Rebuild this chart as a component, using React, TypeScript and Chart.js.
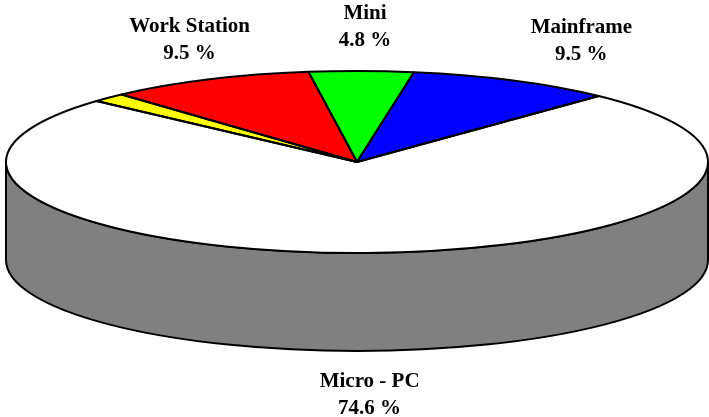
import React, { useEffect, useRef } from 'react';
import { Chart, registerables } from 'chart.js';

Chart.register(...registerables);

// ---- data ----
const categories = ['Mini', 'Mainframe', 'Micro - PC', 'Other', 'Work Station'];
const shares = [4.8, 9.5, 74.6, 1.6, 9.5];
const showLabel = [true, true, true, false, true];
const sliceColors = ['#00ff00', '#0000ff', '#ffffff', '#ffff00', '#ff0000'];

// ---- geometry / style ----
const W = 709;
const H = 417;
const CX = 357;
const CY = 162;
const RX = 351;
const RY = 91;
const DEPTH = 98;
const LABEL_RX = 450;
const LABEL_RY = 135;
const LABEL_SHIFT = 10;
const labelNudgeX = [-7.5, 14, -14.5, 0, 13];
const LINE_W = 2;
const ROT_OFFSET = 0.7;

function shade(hex: string, f: number): string {
  const n = parseInt(hex.slice(1), 16);
  const r = Math.round(((n >> 16) & 255) * f);
  const g = Math.round(((n >> 8) & 255) * f);
  const b = Math.round((n & 255) * f);
  return `rgb(${r},${g},${b})`;
}

const pie3d = {
  id: 'pie3d',
  beforeDatasetsDraw(chart: any) {
    const ctx: CanvasRenderingContext2D = chart.ctx;
    const arcs: any[] = chart.getDatasetMeta(0).data;
    ctx.save();
    ctx.lineWidth = LINE_W;
    ctx.lineJoin = 'round';
    ctx.strokeStyle = '#000';
    // extruded side (front half only)
    arcs.forEach((arc, i) => {
      const s = arc.startAngle;
      const e = arc.endAngle;
      for (let k = -2; k <= 2; k++) {
        const lo = Math.max(s, 2 * Math.PI * k);
        const hi = Math.min(e, 2 * Math.PI * k + Math.PI);
        if (hi > lo) {
          ctx.beginPath();
          ctx.ellipse(CX, CY, RX, RY, 0, lo, hi, false);
          ctx.ellipse(CX, CY + DEPTH, RX, RY, 0, hi, lo, true);
          ctx.closePath();
          ctx.fillStyle = shade(sliceColors[i], 0.5);
          ctx.fill();
          ctx.stroke();
        }
      }
    });
    ctx.restore();
    // squash the library's circular pie into the top ellipse
    const a0 = arcs[0];
    const r = a0.outerRadius;
    ctx.save();
    ctx.translate(CX, CY);
    ctx.scale(RX / r, RY / r);
    ctx.translate(-a0.x, -a0.y);
  },
  afterDatasetsDraw(chart: any) {
    const ctx: CanvasRenderingContext2D = chart.ctx;
    ctx.restore();
    const arcs: any[] = chart.getDatasetMeta(0).data;
    ctx.save();
    ctx.lineWidth = LINE_W;
    ctx.lineJoin = 'round';
    ctx.strokeStyle = '#000';
    arcs.forEach((arc) => {
      ctx.beginPath();
      ctx.moveTo(CX, CY);
      ctx.ellipse(CX, CY, RX, RY, 0, arc.startAngle, arc.endAngle, false);
      ctx.closePath();
      ctx.stroke();
    });
    // labels
    ctx.fillStyle = '#000';
    ctx.font = 'bold 21px "Liberation Serif", "Times New Roman", serif';
    ctx.textAlign = 'center';
    ctx.textBaseline = 'middle';
    arcs.forEach((arc, i) => {
      if (!showLabel[i]) return;
      const m = (arc.startAngle + arc.endAngle) / 2;
      const sx = Math.cos(m);
      const sy = Math.sin(m);
      const x = CX + LABEL_SHIFT + sx * LABEL_RX + labelNudgeX[i];
      const y = CY + sy * LABEL_RY + (sy > 0 ? DEPTH : 0);
      ctx.fillText(categories[i], x, y - 13.5);
      ctx.fillText(`${shares[i].toFixed(1)} %`, x, y + 13.5);
    });
    ctx.restore();
  },
};

export default function App() {
  const ref = useRef<HTMLCanvasElement | null>(null);
  useEffect(() => {
    document.body.style.margin = '0';
    const canvas = ref.current;
    if (!canvas) return;
    const chart = new Chart(canvas, {
      type: 'pie',
      data: {
        labels: categories,
        datasets: [
          {
            data: shares,
            backgroundColor: sliceColors,
            borderWidth: 0,
          },
        ],
      },
      options: {
        animation: false,
        responsive: false,
        devicePixelRatio: 1,
        events: [],
        rotation: -(shares[0] * 3.6) / 2 + ROT_OFFSET,
        layout: { padding: 0 },
        plugins: {
          legend: { display: false },
          tooltip: { enabled: false },
        },
      } as any,
      plugins: [pie3d],
    });
    return () => chart.destroy();
  }, []);
  return (
    <div style={{ position: 'absolute', left: 0, top: 0, width: W, height: H, background: '#fff' }}>
      <canvas ref={ref} width={W} height={H} style={{ width: W, height: H, display: 'block' }} />
    </div>
  );
}
